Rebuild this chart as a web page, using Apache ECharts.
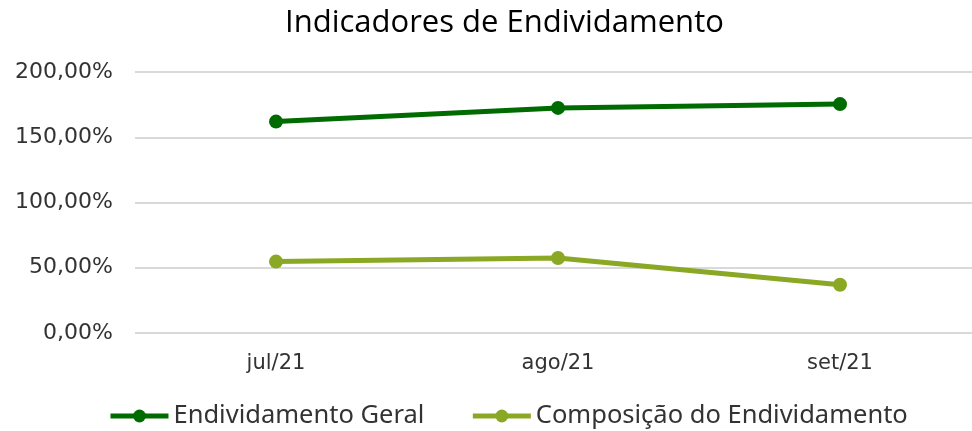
<!DOCTYPE html>
<html>
<head>
<meta charset="utf-8">
<script src="https://cdn.jsdelivr.net/npm/echarts@6/dist/echarts.min.js"></script>
<style>
html,body{margin:0;padding:0;background:#fff;}
#chart{width:972px;height:431px;}
</style>
</head>
<body>
<div id="chart"></div>
<script>
var meses = ['jul/21', 'ago/21', 'set/21'];
var endividamentoGeral = [162.0, 172.5, 175.4];
var composicao = [54.7, 57.5, 37.0];

var chart = echarts.init(document.getElementById('chart'));
function pct(v) {
	return v.toFixed(2).replace('.', ',') + '%';
}
var option = {
	animation: false,
	title: {
		text: 'Indicadores de Endividamento',
		left: 280,
		top: 3,
		textStyle: {
			fontFamily: 'Open Sans',
			fontWeight: 'normal',
			fontSize: 31,
			color: '#000'
		}
	},
	legend: {
		bottom: -3,
		left: 103,
		itemGap: 46,
		itemWidth: 58,
		itemHeight: 16,
		lineStyle: { width: 5 },
		textStyle: {
			fontFamily: 'Noto Sans',
			fontSize: 25.5,
			color: '#333'
		},
		data: ['Endividamento Geral', 'Composição do Endividamento']
	},
	grid: {
		left: 135,
		right: -9,
		top: 72,
		bottom: 98,
		outerBoundsMode: 'none'
	},
	xAxis: {
		type: 'category',
		data: meses,
		axisLine: { show: false },
		axisTick: { show: false },
		axisLabel: {
			margin: 20,
			fontFamily: 'DejaVu Sans',
			fontSize: 21,
			color: '#333'
		}
	},
	yAxis: {
		type: 'value',
		min: 0,
		max: 200,
		interval: 50,
		axisLabel: {
			margin: 22,
			fontFamily: 'DejaVu Sans',
			fontSize: 22,
			color: '#333',
			formatter: pct
		},
		splitLine: {
			lineStyle: { color: '#d9d9d9', width: 2 }
		}
	},
	series: [
		{
			name: 'Endividamento Geral',
			type: 'line',
			data: endividamentoGeral,
			symbol: 'circle',
			symbolSize: 14,
			lineStyle: { width: 5, color: '#006b00' },
			itemStyle: { color: '#006b00' }
		},
		{
			name: 'Composição do Endividamento',
			type: 'line',
			data: composicao,
			symbol: 'circle',
			symbolSize: 14,
			lineStyle: { width: 5, color: '#8aa824' },
			itemStyle: { color: '#8aa824' }
		}
	]
};
chart.setOption(option);
</script>
</body>
</html>
